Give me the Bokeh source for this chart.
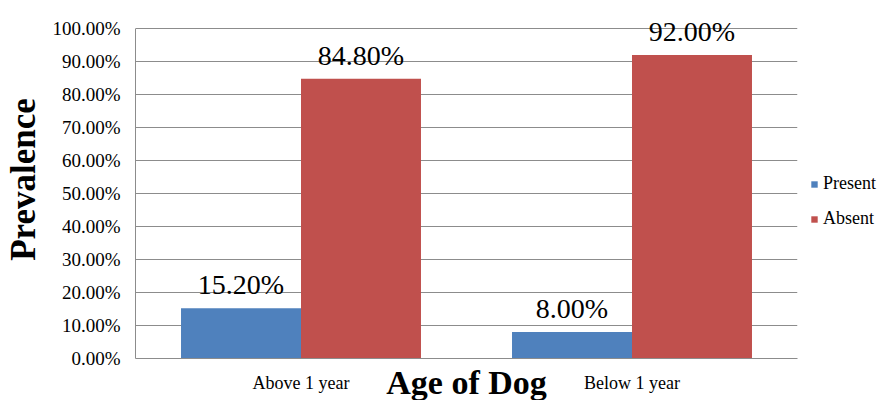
from bokeh.plotting import figure
from bokeh.models import (FactorRange, ColumnDataSource, NumeralTickFormatter, FixedTicker,
                          Legend, LegendItem, LabelSet, Range1d)
from bokeh.core.properties import value
from bokeh.transform import dodge
from bokeh.embed import file_html
from bokeh.resources import INLINE

categories = ["Above 1 year", "Below 1 year"]
present = [0.152, 0.080]
absent = [0.848, 0.920]
present_labels = ["15.20%", "8.00%"]
absent_labels = ["84.80%", "92.00%"]
y_ticks = [0.0, 0.1, 0.2, 0.3, 0.4, 0.5, 0.6, 0.7, 0.8, 0.9, 1.0]

FONT = "Liberation Serif"
BLUE = "#4F81BD"
RED = "#C0504D"
GRID = "#8c8c8c"

src = ColumnDataSource(dict(cat=categories, present=present, absent=absent,
                            plab=present_labels, alab=absent_labels))

# frame extends above the 100% line so that the top data label is not clipped
p = figure(x_range=FactorRange(*categories), y_range=Range1d(0, 358 / 330),
           frame_width=662, frame_height=358,
           min_border_left=135, min_border_top=0, min_border_right=83, min_border_bottom=40,
           output_backend="svg", toolbar_location=None)

bw = 0.3625
off = bw / 2
r_p = p.vbar(x=dodge("cat", -off, range=p.x_range), top="present", width=bw, source=src,
             fill_color=BLUE, line_color=None)
r_a = p.vbar(x=dodge("cat", off, range=p.x_range), top="absent", width=bw, source=src,
             fill_color=RED, line_color=None)

for xoff, col, lab in [(-off, "present", "plab"), (off, "absent", "alab")]:
    ls = LabelSet(x=dodge("cat", xoff, range=p.x_range), y=col, text=lab, source=src,
                  text_align="center", text_baseline="alphabetic", y_offset=14,
                  text_font=value(FONT), text_font_size=value("28px"), text_color="#000000")
    p.add_layout(ls)

p.outline_line_color = None
p.xgrid.grid_line_color = None
p.ygrid.grid_line_color = GRID
p.ygrid.grid_line_width = 1

p.yaxis.ticker = FixedTicker(ticks=y_ticks)
p.yaxis.bounds = (0, 1)
p.yaxis.formatter = NumeralTickFormatter(format="0.00%")
p.yaxis.major_tick_line_color = None
p.yaxis.minor_tick_line_color = None
p.yaxis.major_tick_out = 0
p.yaxis.major_label_standoff = 15
p.yaxis.axis_line_color = GRID
p.yaxis.major_label_text_font = FONT
p.yaxis.major_label_text_font_size = "19px"
p.yaxis.major_label_text_color = "#000000"
p.yaxis.axis_label = "Prevalence"
p.yaxis.axis_label_text_font = FONT
p.yaxis.axis_label_text_font_style = "bold"
p.yaxis.axis_label_text_font_size = "35px"
p.yaxis.axis_label_text_color = "#000000"
p.yaxis.axis_label_standoff = 6

p.xaxis.major_tick_line_color = None
p.xaxis.major_tick_out = 0
p.xaxis.major_label_standoff = 14
p.xaxis.axis_line_color = GRID
p.xaxis.major_label_text_font = FONT
p.xaxis.major_label_text_font_size = "18px"
p.xaxis.major_label_text_color = "#000000"
p.xaxis.axis_label = "Age of Dog"
p.xaxis.axis_label_text_font = FONT
p.xaxis.axis_label_text_font_style = "bold"
p.xaxis.axis_label_text_font_size = "34px"
p.xaxis.axis_label_text_color = "#000000"
p.xaxis.axis_label_standoff = -32

legend = Legend(items=[LegendItem(label="Present", renderers=[r_p]),
                       LegendItem(label="Absent", renderers=[r_a])],
                location=(13, 129), orientation="vertical",
                glyph_width=8, glyph_height=8, label_standoff=5,
                label_height=18, spacing=14, padding=0, margin=0,
                border_line_color=None, background_fill_alpha=0,
                label_text_font=FONT, label_text_font_size="18px", label_text_color="#000000")
p.add_layout(legend, "right")

open("out.html", "w").write(file_html(p, INLINE))
